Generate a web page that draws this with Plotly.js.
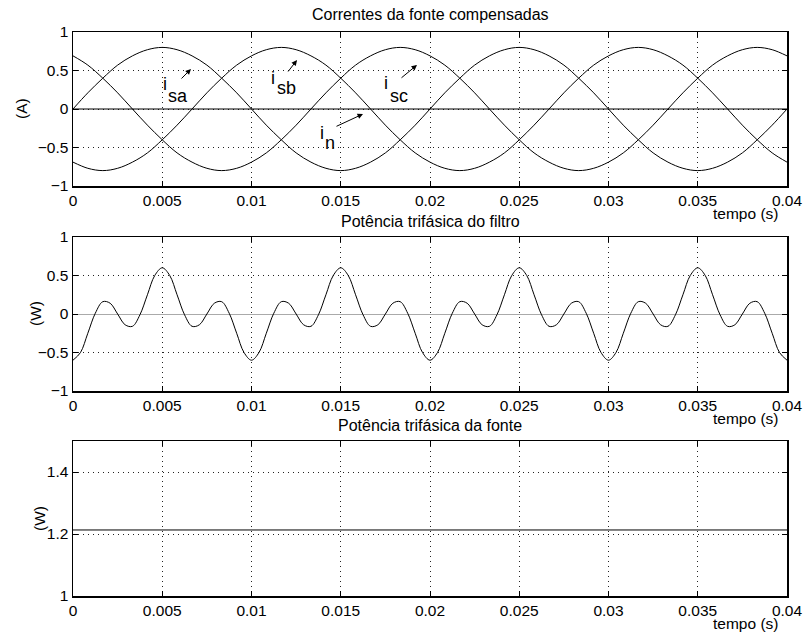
<!DOCTYPE html>
<html><head><meta charset="utf-8">
<script src="https://cdn.plot.ly/plotly-3.0.1.min.js"></script>
<style>html,body{margin:0;padding:0;background:#fff}</style>
</head><body><div id="chart" style="width:805px;height:637px"></div>
<script>
// ---- data ----
const tCur = [0, 0.00083, 0.00167, 0.0025, 0.00333, 0.00417, 0.005, 0.00583, 0.00667, 0.0075, 0.00833, 0.00917,
  0.01, 0.01083, 0.01167, 0.0125, 0.01333, 0.01417, 0.015, 0.01583, 0.01667, 0.0175, 0.01833, 0.01917,
  0.02, 0.02083, 0.02167, 0.0225, 0.02333, 0.02417, 0.025, 0.02583, 0.02667, 0.0275, 0.02833, 0.02917,
  0.03, 0.03083, 0.03167, 0.0325, 0.03333, 0.03417, 0.035, 0.03583, 0.03667, 0.0375, 0.03833, 0.03917, 0.04];
const isa = [0, 0.21, 0.40, 0.57, 0.69, 0.77, 0.80, 0.77, 0.69, 0.57, 0.40, 0.21,
  0, -0.21, -0.40, -0.57, -0.69, -0.77, -0.80, -0.77, -0.69, -0.57, -0.40, -0.21,
  0, 0.21, 0.40, 0.57, 0.69, 0.77, 0.80, 0.77, 0.69, 0.57, 0.40, 0.21,
  0, -0.21, -0.40, -0.57, -0.69, -0.77, -0.80, -0.77, -0.69, -0.57, -0.40, -0.21, 0];
const isb = [-0.69, -0.77, -0.80, -0.77, -0.69, -0.57, -0.40, -0.21, 0, 0.21, 0.40, 0.57,
  0.69, 0.77, 0.80, 0.77, 0.69, 0.57, 0.40, 0.21, 0, -0.21, -0.40, -0.57,
  -0.69, -0.77, -0.80, -0.77, -0.69, -0.57, -0.40, -0.21, 0, 0.21, 0.40, 0.57,
  0.69, 0.77, 0.80, 0.77, 0.69, 0.57, 0.40, 0.21, 0, -0.21, -0.40, -0.57, -0.69];
const isc = [0.69, 0.57, 0.40, 0.21, 0, -0.21, -0.40, -0.57, -0.69, -0.77, -0.80, -0.77,
  -0.69, -0.57, -0.40, -0.21, 0, 0.21, 0.40, 0.57, 0.69, 0.77, 0.80, 0.77,
  0.69, 0.57, 0.40, 0.21, 0, -0.21, -0.40, -0.57, -0.69, -0.77, -0.80, -0.77,
  -0.69, -0.57, -0.40, -0.21, 0, 0.21, 0.40, 0.57, 0.69, 0.77, 0.80, 0.77, 0.69];
const tIn = [0, 0.04];
const iN = [0, 0];

const tPow = [0, 0.00042, 0.00083, 0.00125, 0.00167, 0.00208, 0.0025, 0.00292, 0.00333, 0.00375, 0.00417, 0.00458,
  0.005, 0.00542, 0.00583, 0.00625, 0.00667, 0.00708, 0.0075, 0.00792, 0.00833, 0.00875, 0.00917, 0.00958,
  0.01, 0.01042, 0.01083, 0.01125, 0.01167, 0.01208, 0.0125, 0.01292, 0.01333, 0.01375, 0.01417, 0.01458,
  0.015, 0.01542, 0.01583, 0.01625, 0.01667, 0.01708, 0.0175, 0.01792, 0.01833, 0.01875, 0.01917, 0.01958,
  0.02, 0.02042, 0.02083, 0.02125, 0.02167, 0.02208, 0.0225, 0.02292, 0.02333, 0.02375, 0.02417, 0.02458,
  0.025, 0.02542, 0.02583, 0.02625, 0.02667, 0.02708, 0.0275, 0.02792, 0.02833, 0.02875, 0.02917, 0.02958,
  0.03, 0.03042, 0.03083, 0.03125, 0.03167, 0.03208, 0.0325, 0.03292, 0.03333, 0.03375, 0.03417, 0.03458,
  0.035, 0.03542, 0.03583, 0.03625, 0.03667, 0.03708, 0.0375, 0.03792, 0.03833, 0.03875, 0.03917, 0.03958, 0.04];
const pFiltro = [-0.60, -0.50, -0.25, 0.01, 0.16, 0.14, 0, -0.14, -0.16, -0.01, 0.25, 0.50,
  0.60, 0.50, 0.25, -0.01, -0.16, -0.14, 0, 0.14, 0.16, 0.01, -0.25, -0.50,
  -0.60, -0.50, -0.25, 0.01, 0.16, 0.14, 0, -0.14, -0.16, -0.01, 0.25, 0.50,
  0.60, 0.50, 0.25, -0.01, -0.16, -0.14, 0, 0.14, 0.16, 0.01, -0.25, -0.50,
  -0.60, -0.50, -0.25, 0.01, 0.16, 0.14, 0, -0.14, -0.16, -0.01, 0.25, 0.50,
  0.60, 0.50, 0.25, -0.01, -0.16, -0.14, 0, 0.14, 0.16, 0.01, -0.25, -0.50,
  -0.60, -0.50, -0.25, 0.01, 0.16, 0.14, 0, -0.14, -0.16, -0.01, 0.25, 0.50,
  0.60, 0.50, 0.25, -0.01, -0.16, -0.14, 0, 0.14, 0.16, 0.01, -0.25, -0.50, -0.60];

const tFonte = [0, 0.04];
const pFonte = [1.213, 1.213];

const xTickVals = [0, 0.005, 0.01, 0.015, 0.02, 0.025, 0.03, 0.035, 0.04];
const xTickText = ['0', '0.005', '0.01', '0.015', '0.02', '0.025', '0.03', '0.035', '0.04'];
const yTickVals = [-1, -0.5, 0, 0.5, 1];
const yTickText = ['\u22121', '\u22120.5', '0', '0.5', '1'];
const y3TickVals = [1, 1.2, 1.4];
const y3TickText = ['1', '1.2', '1.4'];

const titles = ['Correntes da fonte compensadas', 'Potência trifásica do filtro', 'Potência trifásica da fonte'];
const yTitles = ['(A)', '(W)', '(W)'];
const xTitle = 'tempo (s)';

// ---- layout helpers (pixel -> paper) ----
const W = 805, H = 637, ML = 73, MR = 18, MT = 32, MB = 41;
const PW = W - ML - MR, PH = H - MT - MB;
const px = x => (x - ML) / PW;
const py = y => (H - MB - y) / PH;
const FONT = 'Liberation Sans, Arial, Helvetica, sans-serif';
const FS = 15.5;

function xAxis(anchor) {
  return {
    range: [0, 0.04], tickmode: 'array', tickvals: xTickVals, ticktext: xTickText,
    ticks: 'inside', ticklen: 5, tickcolor: '#000', mirror: 'ticks',
    showline: true, linecolor: '#000', linewidth: 1.5,
    showgrid: true, gridcolor: '#222', gridwidth: 1, griddash: '1px,4px',
    zeroline: false, anchor: anchor, tickfont: {family: FONT, size: FS, color: '#000'}
  };
}
function yAxis(anchor, dom, rng, vals, txt, zl) {
  return {
    domain: dom, range: rng, tickmode: 'array', tickvals: vals, ticktext: txt,
    ticks: 'inside', ticklen: 5, tickcolor: '#000', mirror: 'ticks',
    showline: true, linecolor: '#000', linewidth: 1.5,
    showgrid: true, gridcolor: '#222', gridwidth: 1, griddash: '1px,4px',
    zeroline: !!zl, zerolinecolor: '#aaa', zerolinewidth: 1,
    anchor: anchor, tickfont: {family: FONT, size: FS, color: '#000'}
  };
}

const lineK = {color: '#000', width: 1, shape: 'spline'};
const traces = [
  {x: tCur, y: isa, xaxis: 'x', yaxis: 'y', mode: 'lines', line: lineK, name: 'isa'},
  {x: tCur, y: isb, xaxis: 'x', yaxis: 'y', mode: 'lines', line: lineK, name: 'isb'},
  {x: tCur, y: isc, xaxis: 'x', yaxis: 'y', mode: 'lines', line: lineK, name: 'isc'},
  {x: tIn, y: iN, xaxis: 'x', yaxis: 'y', mode: 'lines', line: {color: '#000', width: 1.2}, name: 'in'},
  {x: tPow, y: pFiltro, xaxis: 'x2', yaxis: 'y2', mode: 'lines', line: lineK, name: 'pfiltro'},
  {x: tFonte, y: pFonte, xaxis: 'x3', yaxis: 'y3', mode: 'lines', line: {color: '#000', width: 1}, name: 'pfonte'}
];

const ann = [];
function txt(t, x, y, opts) {
  ann.push(Object.assign({text: t, xref: 'paper', yref: 'paper', x: px(x), y: py(y),
    xanchor: 'center', yanchor: 'middle', showarrow: false,
    font: {family: FONT, size: FS, color: '#000'}}, opts || {}));
}
function arrow(x, y, ax, ay) {
  ann.push({text: '', xref: 'paper', yref: 'paper', x: px(x), y: py(y), ax: ax, ay: ay,
    showarrow: true, arrowhead: 2, arrowsize: 1.1, arrowwidth: 1, arrowcolor: '#000'});
}
// subplot titles
txt(titles[0], 430, 14, {font: {family: FONT, size: 16, color: '#000'}});
txt(titles[1], 430, 221, {font: {family: FONT, size: 16, color: '#000'}});
txt(titles[2], 430, 425, {font: {family: FONT, size: 16, color: '#000'}});
// x titles
txt(xTitle, 745, 213); txt(xTitle, 745, 418); txt(xTitle, 745, 623);
// y titles
txt(yTitles[0], 22, 109, {textangle: -90});
txt(yTitles[1], 35, 314, {textangle: -90});
txt(yTitles[2], 39, 519, {textangle: -90});
// curve labels
const LF = {family: FONT, size: 18, color: '#000'};
txt('i', 165, 84, {font: LF}); txt('sa', 178, 96, {font: LF});
txt('i', 273, 78, {font: LF}); txt('sb', 286, 88, {font: LF});
txt('i', 386, 83, {font: LF}); txt('sc', 399, 96, {font: LF});
txt('i', 322, 133, {font: LF}); txt('n', 330, 143, {font: LF});
arrow(191, 69, -11, 11);
arrow(297, 60, -10, 13);
arrow(417, 65, -17, 14);
arrow(363, 114, -28, 13);

const layout = {
  width: W, height: H, margin: {l: ML, r: MR, t: MT, b: MB},
  paper_bgcolor: '#fff', plot_bgcolor: '#fff', showlegend: false,
  font: {family: FONT, size: FS, color: '#000'},
  xaxis: xAxis('y'), xaxis2: xAxis('y2'), xaxis3: xAxis('y3'),
  yaxis: yAxis('x', [py(186), py(32)], [-1, 1], yTickVals, yTickText, false),
  yaxis2: yAxis('x2', [py(391), py(237)], [-1, 1], yTickVals, yTickText, true),
  yaxis3: yAxis('x3', [py(596), py(441)], [1, 1.5], y3TickVals, y3TickText, false),
  annotations: ann
};
Plotly.newPlot('chart', traces, layout, {staticPlot: true, displayModeBar: false});
</script></body></html>
